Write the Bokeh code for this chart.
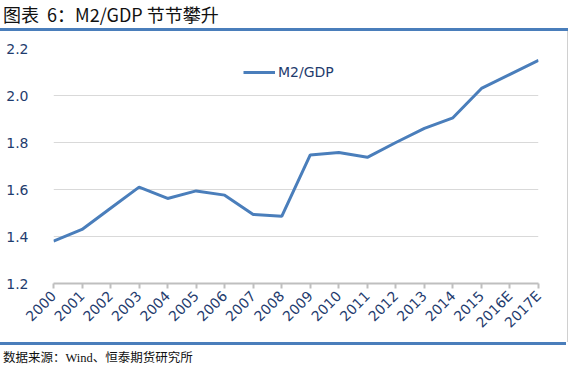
from bokeh.plotting import figure
from bokeh.models import FixedTicker, Div, ColumnDataSource, Legend, LegendItem
from bokeh.layouts import column, row
from bokeh.embed import file_html
from bokeh.resources import INLINE
import math

years = ["2000", "2001", "2002", "2003", "2004", "2005", "2006", "2007", "2008",
         "2009", "2010", "2011", "2012", "2013", "2014", "2015", "2016E", "2017E"]
m2_gdp = [1.38, 1.43, 1.52, 1.61, 1.562, 1.594, 1.576, 1.494, 1.486,
          1.747, 1.757, 1.737, 1.80, 1.86, 1.905, 2.03, 2.09, 2.15]
y_ticks = [1.2, 1.4, 1.6, 1.8, 2.0, 2.2]

title_text = "图表&nbsp;&nbsp;6：M2/GDP 节节攀升"
source_text = "数据来源：Wind、恒泰期货研究所"
series_name = "M2/GDP"

LINE = "#4A7EBB"
LABEL = "#1F3C6E"
BLUE_RULE = "#4A7EBB"

idx = list(range(len(years)))
src = ColumnDataSource(dict(x=idx, y=m2_gdp))

p = figure(width=567, height=311, output_backend="svg", toolbar_location=None,
           x_range=(0, len(years) - 1), y_range=(y_ticks[0], y_ticks[-1]),
           min_border_left=53, min_border_right=29, min_border_top=17,
           min_border_bottom=59)
p.outline_line_color = None
p.background_fill_color = "white"
p.border_fill_color = "white"

r = p.line("x", "y", source=src, line_color=LINE, line_width=3)

# axes
p.xaxis.ticker = FixedTicker(ticks=idx)
p.xaxis.major_label_overrides = {i: y for i, y in enumerate(years)}
p.xaxis.major_label_orientation = math.pi / 4
p.xaxis.axis_line_color = "#BFBFBF"
p.xaxis.axis_line_width = 2
p.xaxis.major_tick_line_color = "#BFBFBF"
p.xaxis.major_tick_line_width = 2
p.xaxis.major_tick_out = 5
p.xaxis.major_tick_in = 0
p.xaxis.minor_tick_line_color = None
p.xaxis.major_label_standoff = 5
p.xaxis.major_label_text_font = "DejaVu Sans"
p.xaxis.major_label_text_font_size = "14px"
p.xaxis.major_label_text_color = LABEL

p.yaxis.ticker = FixedTicker(ticks=y_ticks)
p.yaxis.major_label_overrides = {t: f"{t:.1f}" for t in y_ticks}
p.yaxis.axis_line_color = None
p.yaxis.major_tick_line_color = None
p.yaxis.minor_tick_line_color = None
p.yaxis.major_label_standoff = 19
p.yaxis.major_label_text_font = "DejaVu Sans"
p.yaxis.major_label_text_font_size = "14px"
p.yaxis.major_label_text_color = LABEL

p.xgrid.grid_line_color = None
p.ygrid.grid_line_color = "#D9D9D9"
p.ygrid.grid_line_width = 1
p.ygrid.ticker = FixedTicker(ticks=y_ticks[1:])

legend = Legend(items=[LegendItem(label=series_name, renderers=[r])],
                location=(190, 203), orientation="horizontal")
legend.border_line_color = None
legend.background_fill_alpha = 0
legend.padding = 0
legend.margin = 0
legend.glyph_width = 32
legend.glyph_height = 16
legend.label_standoff = 3
legend.label_text_font = "DejaVu Sans"
legend.label_text_font_size = "14px"
legend.label_text_color = LABEL
p.add_layout(legend, "center")

right_edge = Div(text="", width=1, height=311, margin=0,
                 styles={"background-color": "#D0D0D0", "width": "1px",
                         "height": "311px"})
spacer = Div(text="", width=2, height=311, margin=0)

title = Div(text=title_text, width=570, height=31, margin=0,
            styles={"font-family": "'Noto Sans CJK SC', 'Open Sans', sans-serif",
                    "font-size": "18px", "color": "#111111",
                    "border-bottom": f"3px solid {BLUE_RULE}",
                    "box-sizing": "border-box", "line-height": "22px",
                    "padding-top": "3px", "padding-left": "3px",
                    "white-space": "nowrap", "overflow": "visible",
                    "width": "568px", "height": "31px"})

source = Div(text=source_text, width=570, height=26, margin=0,
             styles={"font-family": "'Liberation Serif', 'Noto Sans CJK SC', serif",
                     "font-size": "12.5px", "color": "#111111",
                     "border-top": f"3px solid {BLUE_RULE}",
                     "box-sizing": "border-box", "line-height": "18px",
                     "padding-top": "4px", "padding-left": "3px",
                     "white-space": "nowrap",
                     "width": "566px", "height": "26px"})

layout = column(title, row(p, right_edge, spacer, spacing=0), source, spacing=0)

open("out.html", "w").write(file_html(layout, INLINE))
